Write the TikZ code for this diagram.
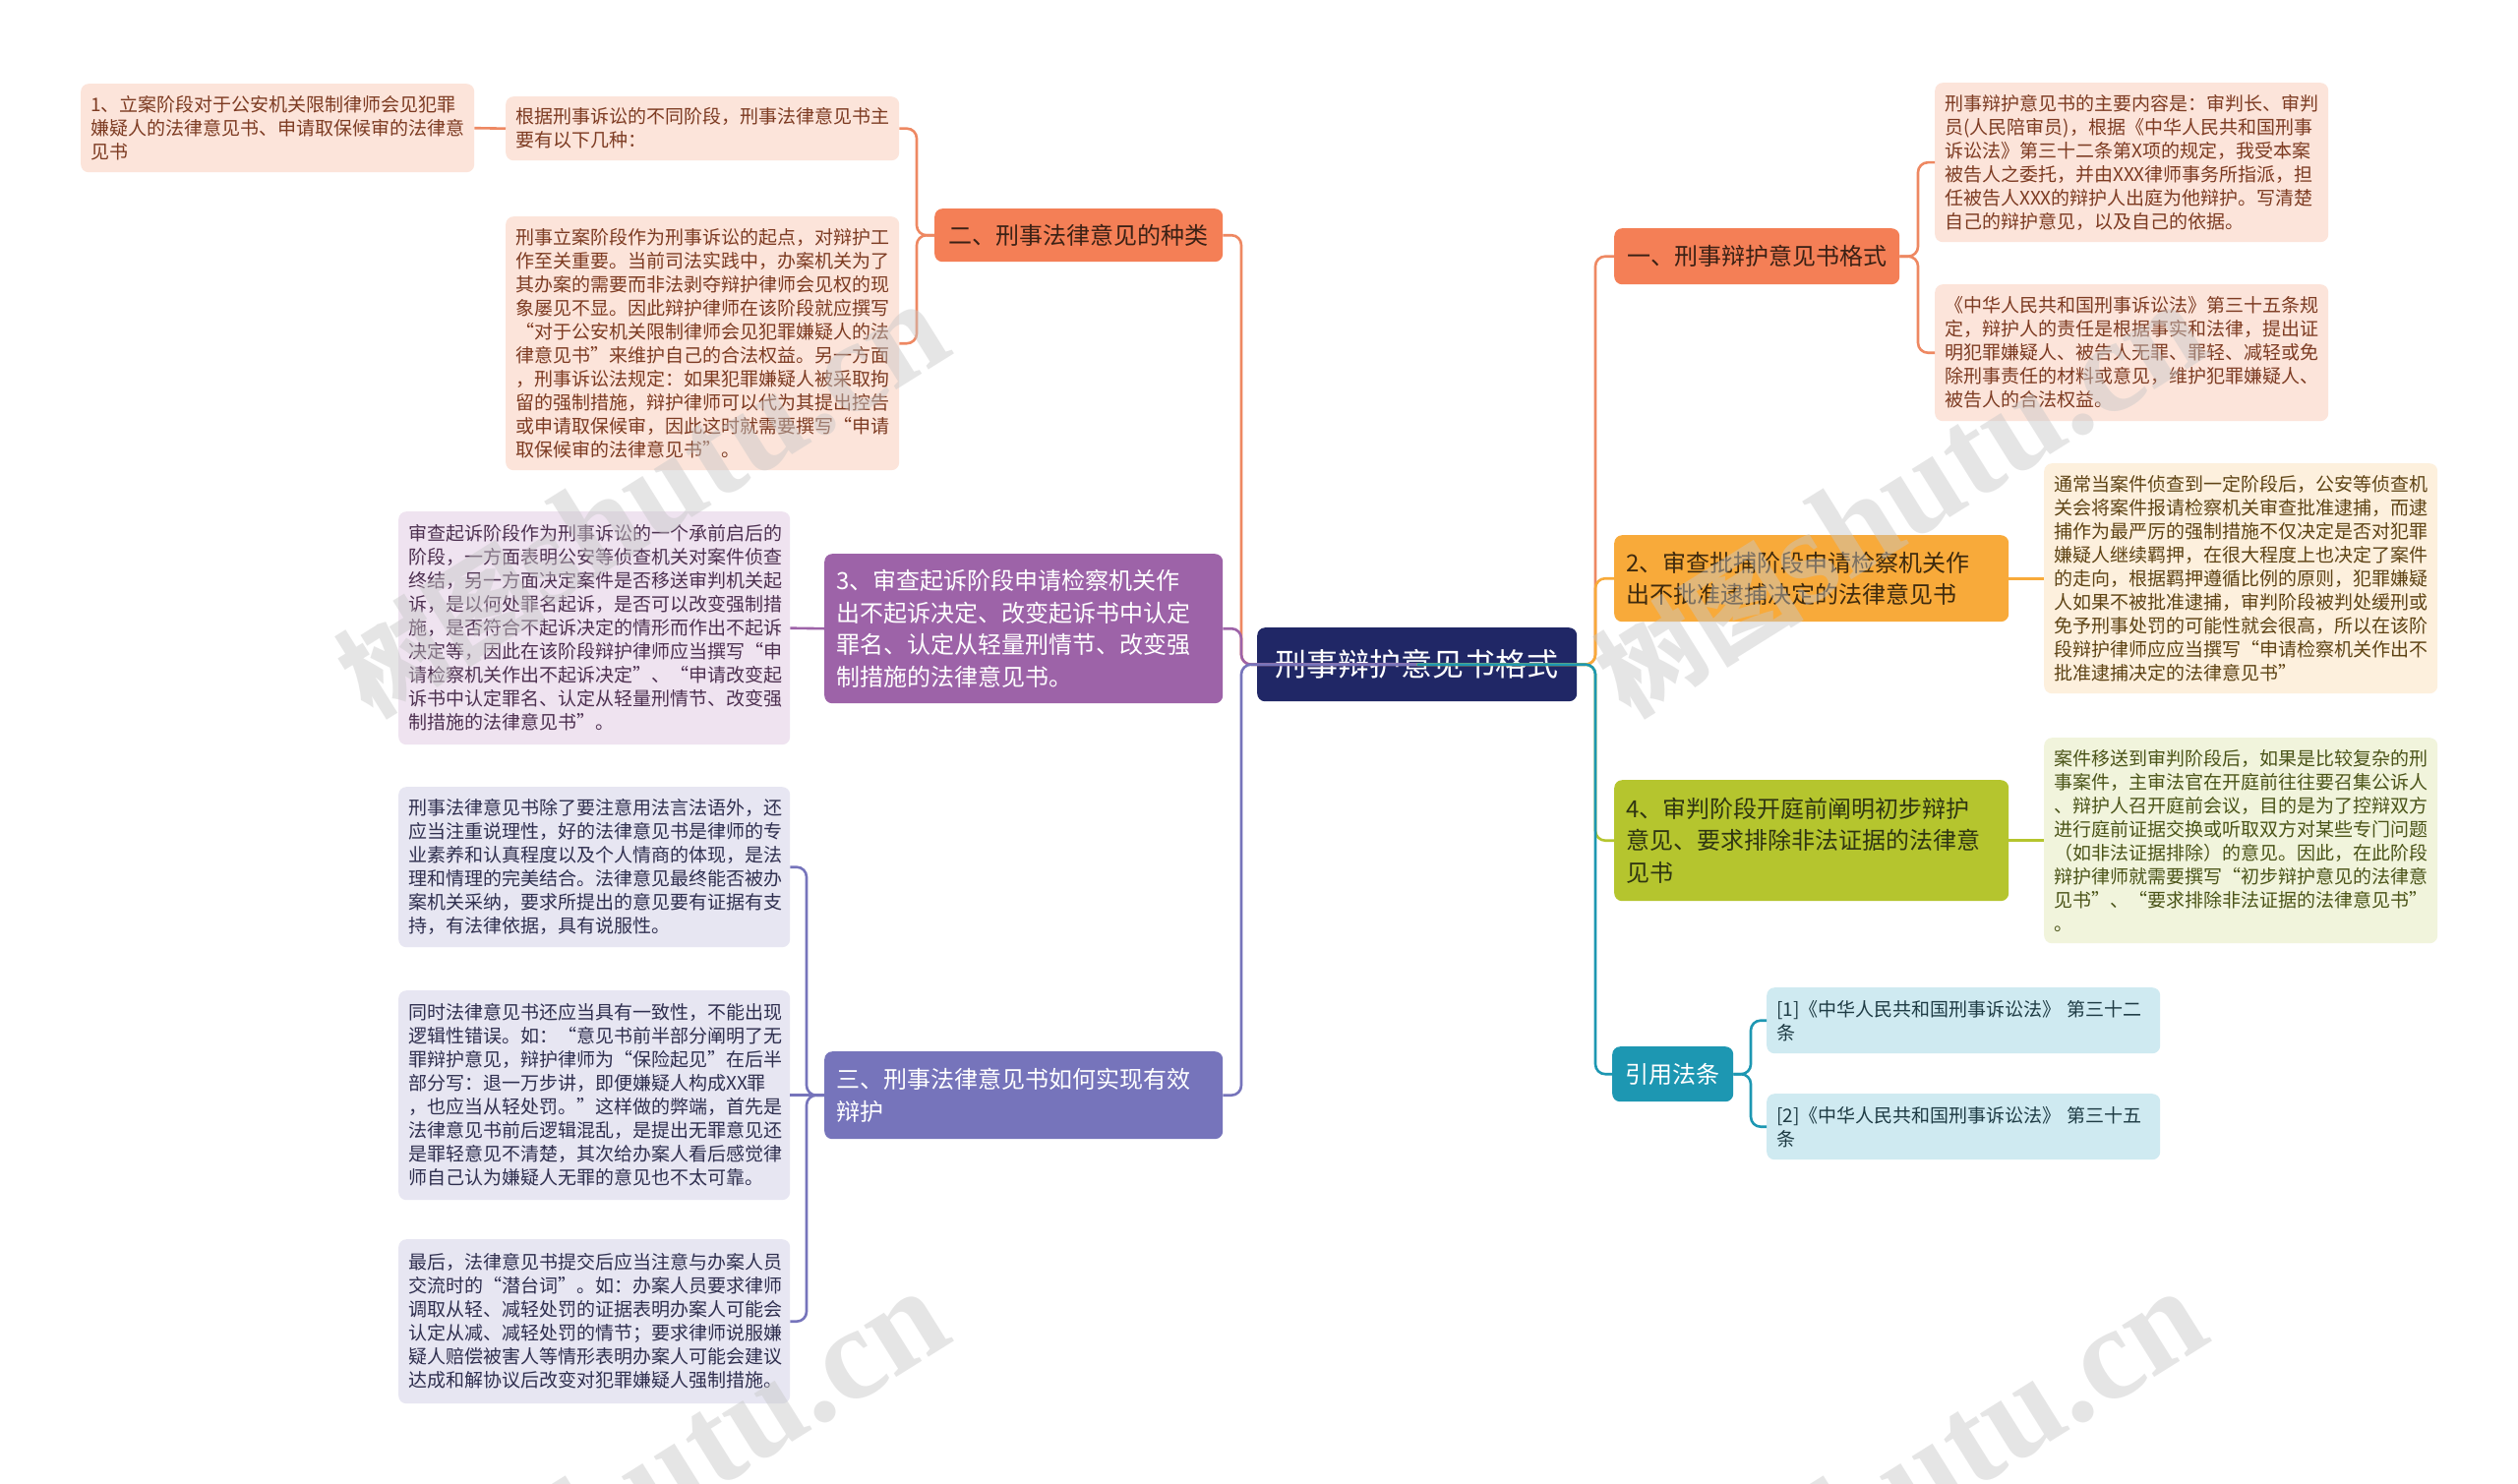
\documentclass[tikz,border=0pt]{standalone}
\usepackage{fontspec}
\setmainfont{Noto Sans CJK SC}
\newfontfamily\wmlatin{Liberation Serif}
\definecolor{cCtr}{HTML}{202766}
\definecolor{cOr}{HTML}{F47F56}
\definecolor{cOrL}{HTML}{EE8862}
\definecolor{cOrT}{HTML}{3B2115}
\definecolor{cPeach}{HTML}{FCE4DA}
\definecolor{cPeachT}{HTML}{7D3B22}
\definecolor{cYe}{HTML}{F8AA3A}
\definecolor{cYeT}{HTML}{3E2A0E}
\definecolor{cCream}{HTML}{FDF0DD}
\definecolor{cCreamT}{HTML}{5E4314}
\definecolor{cLi}{HTML}{B5C52E}
\definecolor{cLiT}{HTML}{2F3512}
\definecolor{cLiLeaf}{HTML}{F1F4DC}
\definecolor{cLiLeafT}{HTML}{4B5418}
\definecolor{cTe}{HTML}{1D97B2}
\definecolor{cCite}{HTML}{CFEAF1}
\definecolor{cCiteT}{HTML}{1E3B44}
\definecolor{cPu}{HTML}{9D63A8}
\definecolor{cPuLeaf}{HTML}{EFE3F0}
\definecolor{cPuLeafT}{HTML}{4D3050}
\definecolor{cBp}{HTML}{7674BB}
\definecolor{cBpLeaf}{HTML}{E7E6F2}
\definecolor{cBpLeafT}{HTML}{2F2F4F}
\begin{document}
\begin{tikzpicture}[x=1pt,y=-1pt,
  box/.style={draw=none, rounded corners=8pt, anchor=north west, inner xsep=10pt, inner ysep=0pt, align=left},
  leaf/.style={box, text width=380pt, font=\fontsize{19}{24}\selectfont},
  branch/.style={box, inner xsep=12pt, font=\fontsize{24}{32.5}\selectfont},
  branchc/.style={draw=none, rounded corners=8pt, anchor=north west, inner sep=0pt, align=center, font=\fontsize{24}{32.5}\selectfont},
  conn/.style={line width=2.6pt, rounded corners=10pt},
  wm/.style={text=black!22, opacity=0.45, font=\fontsize{105}{105}\selectfont\bfseries, inner sep=0pt}
]
\useasboundingbox[fill=white] (0,0) rectangle (2560,1509);

% ---------- centre ----------
\node[branchc, fill=cCtr, text=white, minimum width=325pt, minimum height=75pt,
      font=\fontsize{32}{36}\selectfont] (ctr) at (1278,638) {刑事辩护意见书格式};

% ---------- right side ----------
\node[branchc, fill=cOr, text=cOrT, minimum width=290pt, minimum height=57pt] (nR1) at (1641,232) {一、刑事辩护意见书格式};
\node[leaf, fill=cPeach, text=cPeachT, minimum height=162pt] (r1a) at (1967,84) {刑事辩护意见书的主要内容是：审判长、审判\\
员(人民陪审员)，根据《中华人民共和国刑事\\
诉讼法》第三十二条第X项的规定，我受本案\\
被告人之委托，并由XXX律师事务所指派，担\\
任被告人XXX的辩护人出庭为他辩护。写清楚\\
自己的辩护意见，以及自己的依据。};
\node[leaf, fill=cPeach, text=cPeachT, minimum height=139pt] (r1b) at (1967,289) {《中华人民共和国刑事诉讼法》第三十五条规\\
定，辩护人的责任是根据事实和法律，提出证\\
明犯罪嫌疑人、被告人无罪、罪轻、减轻或免\\
除刑事责任的材料或意见，维护犯罪嫌疑人、\\
被告人的合法权益。};

\node[branch, fill=cYe, text=cYeT, text width=377pt, minimum height=88pt] (nR2) at (1641,544) {2、审查批捕阶段申请检察机关作\\出不批准逮捕决定的法律意见书};
\node[leaf, fill=cCream, text=cCreamT, minimum height=234pt] (r2) at (2078,471) {通常当案件侦查到一定阶段后，公安等侦查机\\
关会将案件报请检察机关审查批准逮捕，而逮\\
捕作为最严厉的强制措施不仅决定是否对犯罪\\
嫌疑人继续羁押，在很大程度上也决定了案件\\
的走向，根据羁押遵循比例的原则，犯罪嫌疑\\
人如果不被批准逮捕，审判阶段被判处缓刑或\\
免予刑事处罚的可能性就会很高，所以在该阶\\
段辩护律师应应当撰写“申请检察机关作出不\\
批准逮捕决定的法律意见书”};

\node[branch, fill=cLi, text=cLiT, text width=377pt, minimum height=123pt] (nR4) at (1641,793) {4、审判阶段开庭前阐明初步辩护\\意见、要求排除非法证据的法律意\\见书};
\node[leaf, fill=cLiLeaf, text=cLiLeafT, minimum height=209pt] (r4) at (2078,750) {案件移送到审判阶段后，如果是比较复杂的刑\\
事案件，主审法官在开庭前往往要召集公诉人\\
、辩护人召开庭前会议，目的是为了控辩双方\\
进行庭前证据交换或听取双方对某些专门问题\\
（如非法证据排除）的意见。因此，在此阶段\\
辩护律师就需要撰写“初步辩护意见的法律意\\
见书”、“要求排除非法证据的法律意见书”\\
。};

\node[branchc, fill=cTe, text=white, minimum width=123pt, minimum height=56pt] (nRC) at (1639,1064) {引用法条};
\node[leaf, fill=cCite, text=cCiteT, minimum height=67pt] (c1) at (1796,1004) {[1]《中华人民共和国刑事诉讼法》 第三十二\\条};
\node[leaf, fill=cCite, text=cCiteT, minimum height=67pt] (c2) at (1796,1112) {[2]《中华人民共和国刑事诉讼法》 第三十五\\条};

% ---------- left side ----------
\node[branchc, fill=cOr, text=cOrT, minimum width=293pt, minimum height=54pt] (nA) at (950,212) {二、刑事法律意见的种类};
\node[leaf, fill=cPeach, text=cPeachT, minimum height=65pt] (l2a) at (514,98) {根据刑事诉讼的不同阶段，刑事法律意见书主\\要有以下几种：};
\node[leaf, fill=cPeach, text=cPeachT, minimum height=90pt] (l2a1) at (82,85) {1、立案阶段对于公安机关限制律师会见犯罪\\嫌疑人的法律意见书、申请取保候审的法律意\\见书};
\node[leaf, fill=cPeach, text=cPeachT, minimum height=258pt] (l2b) at (514,220) {刑事立案阶段作为刑事诉讼的起点，对辩护工\\
作至关重要。当前司法实践中，办案机关为了\\
其办案的需要而非法剥夺辩护律师会见权的现\\
象屡见不显。因此辩护律师在该阶段就应撰写\\
“对于公安机关限制律师会见犯罪嫌疑人的法\\
律意见书”来维护自己的合法权益。另一方面\\
，刑事诉讼法规定：如果犯罪嫌疑人被采取拘\\
留的强制措施，辩护律师可以代为其提出控告\\
或申请取保候审，因此这时就需要撰写“申请\\
取保候审的法律意见书”。};

\node[branch, fill=cPu, text=white, text width=381pt, minimum height=152pt] (nB) at (838,563) {3、审查起诉阶段申请检察机关作\\出不起诉决定、改变起诉书中认定\\罪名、认定从轻量刑情节、改变强\\制措施的法律意见书。};
\node[leaf, fill=cPuLeaf, text=cPuLeafT, text width=378pt, minimum height=237pt] (l3) at (405,520) {审查起诉阶段作为刑事诉讼的一个承前启后的\\
阶段，一方面表明公安等侦查机关对案件侦查\\
终结，另一方面决定案件是否移送审判机关起\\
诉，是以何处罪名起诉，是否可以改变强制措\\
施，是否符合不起诉决定的情形而作出不起诉\\
决定等，因此在该阶段辩护律师应当撰写“申\\
请检察机关作出不起诉决定”、“申请改变起\\
诉书中认定罪名、认定从轻量刑情节、改变强\\
制措施的法律意见书”。};

\node[branch, fill=cBp, text=white, text width=381pt, minimum height=89pt] (nC) at (838,1069) {三、刑事法律意见书如何实现有效\\辩护};
\node[leaf, fill=cBpLeaf, text=cBpLeafT, text width=378pt, minimum height=163pt] (lA) at (405,800) {刑事法律意见书除了要注意用法言法语外，还\\
应当注重说理性，好的法律意见书是律师的专\\
业素养和认真程度以及个人情商的体现，是法\\
理和情理的完美结合。法律意见最终能否被办\\
案机关采纳，要求所提出的意见要有证据有支\\
持，有法律依据，具有说服性。};
\node[leaf, fill=cBpLeaf, text=cBpLeafT, text width=378pt, minimum height=213pt] (lB) at (405,1007) {同时法律意见书还应当具有一致性，不能出现\\
逻辑性错误。如：“意见书前半部分阐明了无\\
罪辩护意见，辩护律师为“保险起见”在后半\\
部分写：退一万步讲，即便嫌疑人构成XX罪\\
，也应当从轻处罚。”这样做的弊端，首先是\\
法律意见书前后逻辑混乱，是提出无罪意见还\\
是罪轻意见不清楚，其次给办案人看后感觉律\\
师自己认为嫌疑人无罪的意见也不太可靠。};
\node[leaf, fill=cBpLeaf, text=cBpLeafT, text width=378pt, minimum height=167pt] (lC) at (405,1260) {最后，法律意见书提交后应当注意与办案人员\\
交流时的“潜台词”。如：办案人员要求律师\\
调取从轻、减轻处罚的证据表明办案人可能会\\
认定从减、减轻处罚的情节；要求律师说服嫌\\
疑人赔偿被害人等情形表明办案人可能会建议\\
达成和解协议后改变对犯罪嫌疑人强制措施。};

% ---------- connectors ----------
\coordinate (LT) at (1262,0);
\coordinate (RT) at (1622,0);
\coordinate (T2) at (932,0);
\coordinate (T3) at (820,0);
\coordinate (T1) at (1950,0);
\coordinate (TC) at (1780,0);

\draw[conn, cOrL] (nA.west) -- (nA.west -| T2) |- (l2a.east);
\draw[conn, cOrL] (nA.west) -- (nA.west -| T2) |- (l2b.east);
\draw[conn, cOrL] (l2a.west) -- (l2a1.east);
\draw[conn, cPu] (nB.west) -- (l3.east);
\draw[conn, cBp] (nC.west) -- (nC.west -| T3) |- (lA.east);
\draw[conn, cBp] (nC.west) -- (nC.west -| T3) |- (lC.east);
\draw[conn, cBp] (nC.west) -- (lB.east);

\draw[conn, cOrL] (nR1.east) -- (nR1.east -| T1) |- (r1a.west);
\draw[conn, cOrL] (nR1.east) -- (nR1.east -| T1) |- (r1b.west);
\draw[conn, cYe] (nR2.east) -- (r2.west);
\draw[conn, cLi] (nR4.east) -- (r4.west);
\draw[conn, cTe] (nRC.east) -- (nRC.east -| TC) |- (c1.west);
\draw[conn, cTe] (nRC.east) -- (nRC.east -| TC) |- (c2.west);

\draw[conn, cOrL] (ctr.center) -- (ctr.center -| LT) |- (nA.east);
\draw[conn, cPu] (ctr.center) -- (ctr.center -| LT) |- (nB.east);
\draw[conn, cBp] (ctr.center) -- (ctr.center -| LT) |- (nC.east);

\draw[conn, cOrL] (ctr.center) -- (ctr.center -| RT) |- (nR1.west);
\draw[conn, cYe] (ctr.center) -- (ctr.center -| RT) |- (nR2.west);
\draw[conn, cLi] (ctr.center) -- (ctr.center -| RT) |- (nR4.west);
\draw[conn, cTe] (ctr.center) -- (ctr.center -| RT) |- (nRC.west);

% ---------- watermarks ----------
\node[wm, rotate=32] (wm1) at (653,509) {树图{\wmlatin\fontsize{135}{135}\selectfont\bfseries shutu.cn}};
\node[wm, rotate=32] (wm2) at (1932,509) {树图{\wmlatin\fontsize{135}{135}\selectfont\bfseries shutu.cn}};
\node[wm, rotate=32] (wm3) at (653,1513) {树图{\wmlatin\fontsize{135}{135}\selectfont\bfseries shutu.cn}};
\node[wm, rotate=32] (wm4) at (1932,1513) {树图{\wmlatin\fontsize{135}{135}\selectfont\bfseries shutu.cn}};
\end{tikzpicture}
\end{document}
